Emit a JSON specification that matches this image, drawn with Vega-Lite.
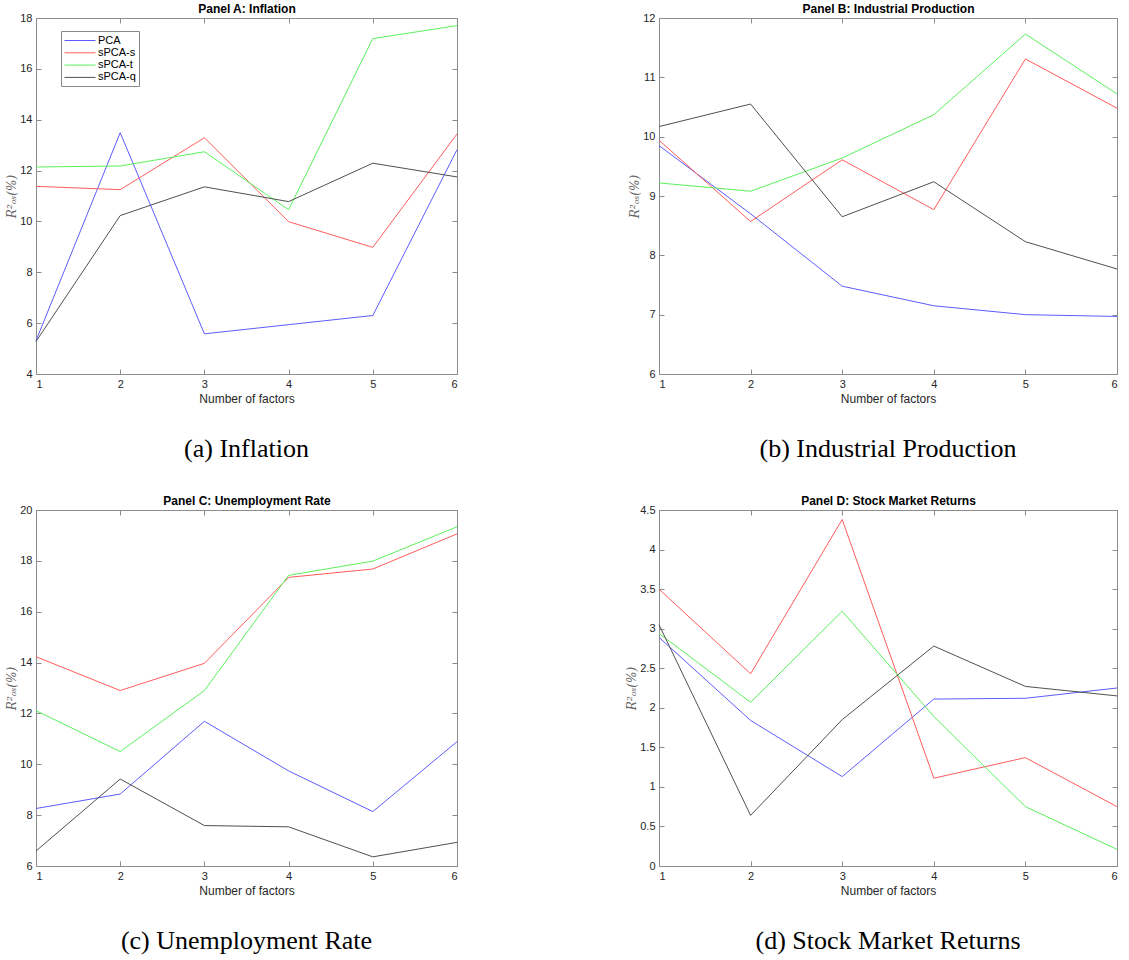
{
  "$schema": "https://vega.github.io/schema/vega-lite/v6.json",
  "background": "white",
  "padding": {"left": 5, "top": 2, "right": 5, "bottom": 5},
  "datasets": {
    "r2": [
      {"panel": "A", "model": "PCA", "k": 1, "r2": 5.31},
      {"panel": "A", "model": "PCA", "k": 2, "r2": 13.49},
      {"panel": "A", "model": "PCA", "k": 3, "r2": 5.58},
      {"panel": "A", "model": "PCA", "k": 4, "r2": 5.94},
      {"panel": "A", "model": "PCA", "k": 5, "r2": 6.30},
      {"panel": "A", "model": "PCA", "k": 6, "r2": 12.82},
      {"panel": "A", "model": "sPCA-s", "k": 1, "r2": 11.38},
      {"panel": "A", "model": "sPCA-s", "k": 2, "r2": 11.25},
      {"panel": "A", "model": "sPCA-s", "k": 3, "r2": 13.29},
      {"panel": "A", "model": "sPCA-s", "k": 4, "r2": 9.99},
      {"panel": "A", "model": "sPCA-s", "k": 5, "r2": 8.98},
      {"panel": "A", "model": "sPCA-s", "k": 6, "r2": 13.44},
      {"panel": "A", "model": "sPCA-t", "k": 1, "r2": 12.14},
      {"panel": "A", "model": "sPCA-t", "k": 2, "r2": 12.18},
      {"panel": "A", "model": "sPCA-t", "k": 3, "r2": 12.74},
      {"panel": "A", "model": "sPCA-t", "k": 4, "r2": 10.46},
      {"panel": "A", "model": "sPCA-t", "k": 5, "r2": 17.19},
      {"panel": "A", "model": "sPCA-t", "k": 6, "r2": 17.70},
      {"panel": "A", "model": "sPCA-q", "k": 1, "r2": 5.28},
      {"panel": "A", "model": "sPCA-q", "k": 2, "r2": 10.23},
      {"panel": "A", "model": "sPCA-q", "k": 3, "r2": 11.36},
      {"panel": "A", "model": "sPCA-q", "k": 4, "r2": 10.78},
      {"panel": "A", "model": "sPCA-q", "k": 5, "r2": 12.29},
      {"panel": "A", "model": "sPCA-q", "k": 6, "r2": 11.75},
      {"panel": "B", "model": "PCA", "k": 1, "r2": 9.85},
      {"panel": "B", "model": "PCA", "k": 2, "r2": 8.70},
      {"panel": "B", "model": "PCA", "k": 3, "r2": 7.48},
      {"panel": "B", "model": "PCA", "k": 4, "r2": 7.15},
      {"panel": "B", "model": "PCA", "k": 5, "r2": 7.00},
      {"panel": "B", "model": "PCA", "k": 6, "r2": 6.97},
      {"panel": "B", "model": "sPCA-s", "k": 1, "r2": 9.94},
      {"panel": "B", "model": "sPCA-s", "k": 2, "r2": 8.57},
      {"panel": "B", "model": "sPCA-s", "k": 3, "r2": 9.61},
      {"panel": "B", "model": "sPCA-s", "k": 4, "r2": 8.77},
      {"panel": "B", "model": "sPCA-s", "k": 5, "r2": 11.31},
      {"panel": "B", "model": "sPCA-s", "k": 6, "r2": 10.48},
      {"panel": "B", "model": "sPCA-t", "k": 1, "r2": 9.22},
      {"panel": "B", "model": "sPCA-t", "k": 2, "r2": 9.08},
      {"panel": "B", "model": "sPCA-t", "k": 3, "r2": 9.64},
      {"panel": "B", "model": "sPCA-t", "k": 4, "r2": 10.37},
      {"panel": "B", "model": "sPCA-t", "k": 5, "r2": 11.73},
      {"panel": "B", "model": "sPCA-t", "k": 6, "r2": 10.72},
      {"panel": "B", "model": "sPCA-q", "k": 1, "r2": 10.17},
      {"panel": "B", "model": "sPCA-q", "k": 2, "r2": 10.55},
      {"panel": "B", "model": "sPCA-q", "k": 3, "r2": 8.65},
      {"panel": "B", "model": "sPCA-q", "k": 4, "r2": 9.24},
      {"panel": "B", "model": "sPCA-q", "k": 5, "r2": 8.23},
      {"panel": "B", "model": "sPCA-q", "k": 6, "r2": 7.77},
      {"panel": "C", "model": "PCA", "k": 1, "r2": 8.26},
      {"panel": "C", "model": "PCA", "k": 2, "r2": 8.83},
      {"panel": "C", "model": "PCA", "k": 3, "r2": 11.69},
      {"panel": "C", "model": "PCA", "k": 4, "r2": 9.74},
      {"panel": "C", "model": "PCA", "k": 5, "r2": 8.14},
      {"panel": "C", "model": "PCA", "k": 6, "r2": 10.89},
      {"panel": "C", "model": "sPCA-s", "k": 1, "r2": 14.23},
      {"panel": "C", "model": "sPCA-s", "k": 2, "r2": 12.90},
      {"panel": "C", "model": "sPCA-s", "k": 3, "r2": 13.97},
      {"panel": "C", "model": "sPCA-s", "k": 4, "r2": 17.35},
      {"panel": "C", "model": "sPCA-s", "k": 5, "r2": 17.68},
      {"panel": "C", "model": "sPCA-s", "k": 6, "r2": 19.06},
      {"panel": "C", "model": "sPCA-t", "k": 1, "r2": 12.11},
      {"panel": "C", "model": "sPCA-t", "k": 2, "r2": 10.50},
      {"panel": "C", "model": "sPCA-t", "k": 3, "r2": 12.90},
      {"panel": "C", "model": "sPCA-t", "k": 4, "r2": 17.43},
      {"panel": "C", "model": "sPCA-t", "k": 5, "r2": 17.99},
      {"panel": "C", "model": "sPCA-t", "k": 6, "r2": 19.34},
      {"panel": "C", "model": "sPCA-q", "k": 1, "r2": 6.59},
      {"panel": "C", "model": "sPCA-q", "k": 2, "r2": 9.42},
      {"panel": "C", "model": "sPCA-q", "k": 3, "r2": 7.59},
      {"panel": "C", "model": "sPCA-q", "k": 4, "r2": 7.54},
      {"panel": "C", "model": "sPCA-q", "k": 5, "r2": 6.36},
      {"panel": "C", "model": "sPCA-q", "k": 6, "r2": 6.93},
      {"panel": "D", "model": "PCA", "k": 1, "r2": 2.89},
      {"panel": "D", "model": "PCA", "k": 2, "r2": 1.84},
      {"panel": "D", "model": "PCA", "k": 3, "r2": 1.13},
      {"panel": "D", "model": "PCA", "k": 4, "r2": 2.11},
      {"panel": "D", "model": "PCA", "k": 5, "r2": 2.12},
      {"panel": "D", "model": "PCA", "k": 6, "r2": 2.25},
      {"panel": "D", "model": "sPCA-s", "k": 1, "r2": 3.50},
      {"panel": "D", "model": "sPCA-s", "k": 2, "r2": 2.43},
      {"panel": "D", "model": "sPCA-s", "k": 3, "r2": 4.38},
      {"panel": "D", "model": "sPCA-s", "k": 4, "r2": 1.11},
      {"panel": "D", "model": "sPCA-s", "k": 5, "r2": 1.37},
      {"panel": "D", "model": "sPCA-s", "k": 6, "r2": 0.75},
      {"panel": "D", "model": "sPCA-t", "k": 1, "r2": 2.94},
      {"panel": "D", "model": "sPCA-t", "k": 2, "r2": 2.07},
      {"panel": "D", "model": "sPCA-t", "k": 3, "r2": 3.22},
      {"panel": "D", "model": "sPCA-t", "k": 4, "r2": 1.89},
      {"panel": "D", "model": "sPCA-t", "k": 5, "r2": 0.75},
      {"panel": "D", "model": "sPCA-t", "k": 6, "r2": 0.21},
      {"panel": "D", "model": "sPCA-q", "k": 1, "r2": 3.05},
      {"panel": "D", "model": "sPCA-q", "k": 2, "r2": 0.64},
      {"panel": "D", "model": "sPCA-q", "k": 3, "r2": 1.85},
      {"panel": "D", "model": "sPCA-q", "k": 4, "r2": 2.78},
      {"panel": "D", "model": "sPCA-q", "k": 5, "r2": 2.27},
      {"panel": "D", "model": "sPCA-q", "k": 6, "r2": 2.15}
    ]
  },
  "columns": 2,
  "spacing": {"column": 166, "row": 32},
  "resolve": {"scale": {"color": "independent", "x": "independent", "y": "independent"}},
  "concat": [
    {
      "width": 421, "height": 356,
      "title": {"text": "(a) Inflation", "orient": "bottom", "frame": "group"},
      "data": {"name": "r2"},
      "transform": [{"filter": "datum.panel === 'A'"}],
      "layer": [
        {
          "mark": {"type": "line", "strokeWidth": 1},
          "encoding": {
            "x": {"field": "k", "type": "quantitative", "scale": {"domain": [1, 6], "nice": false}, "axis": {"orient": "bottom", "values": [1, 2, 3, 4, 5, 6], "format": "d", "title": "Number of factors"}},
            "y": {"field": "r2", "type": "quantitative", "scale": {"domain": [4, 18], "nice": false, "zero": false}, "axis": {"orient": "left", "values": [4, 6, 8, 10, 12, 14, 16, 18], "format": "~g", "title": "R²ₒₛ(%)"}},
            "color": {"field": "model", "type": "nominal", "scale": {"domain": ["PCA", "sPCA-s", "sPCA-t", "sPCA-q"], "range": ["#5c5cff", "#ff5c5c", "#5cf05c", "#505050"]},
              "legend": {"orient": "none", "legendX": 25, "legendY": 13, "title": null, "strokeColor": "#888", "fillColor": "white", "padding": 3, "symbolType": "M-1,0H4.17", "symbolSize": 144, "symbolStrokeWidth": 1, "labelFontSize": 11, "labelColor": "#000", "rowPadding": 0.3, "labelOffset": 21}}
          }
        },
        {
          "mark": {"type": "line", "opacity": 0},
          "encoding": {
            "x": {"field": "k", "type": "quantitative", "axis": {"orient": "top", "values": [1, 2, 3, 4, 5, 6], "labels": false, "title": "Panel A: Inflation", "titleFontWeight": "bold", "titleColor": "#000", "titlePadding": 2}},
            "y": {"field": "r2", "type": "quantitative", "axis": {"orient": "right", "values": [4, 6, 8, 10, 12, 14, 16, 18], "labels": false, "title": null}},
            "detail": {"field": "model"}
          }
        }
      ],
      "resolve": {"axis": {"x": "independent", "y": "independent"}}
    },
    {
      "width": 458, "height": 356,
      "title": {"text": "(b) Industrial Production", "orient": "bottom", "frame": "group"},
      "data": {"name": "r2"},
      "transform": [{"filter": "datum.panel === 'B'"}],
      "layer": [
        {
          "mark": {"type": "line", "strokeWidth": 1},
          "encoding": {
            "x": {"field": "k", "type": "quantitative", "scale": {"domain": [1, 6], "nice": false}, "axis": {"orient": "bottom", "values": [1, 2, 3, 4, 5, 6], "format": "d", "title": "Number of factors"}},
            "y": {"field": "r2", "type": "quantitative", "scale": {"domain": [6, 12], "nice": false, "zero": false}, "axis": {"orient": "left", "values": [6, 7, 8, 9, 10, 11, 12], "format": "~g", "title": "R²ₒₛ(%)"}},
            "color": {"field": "model", "type": "nominal", "scale": {"domain": ["PCA", "sPCA-s", "sPCA-t", "sPCA-q"], "range": ["#5c5cff", "#ff5c5c", "#5cf05c", "#505050"]}, "legend": null}
          }
        },
        {
          "mark": {"type": "line", "opacity": 0},
          "encoding": {
            "x": {"field": "k", "type": "quantitative", "axis": {"orient": "top", "values": [1, 2, 3, 4, 5, 6], "labels": false, "title": "Panel B: Industrial Production", "titleFontWeight": "bold", "titleColor": "#000", "titlePadding": 2}},
            "y": {"field": "r2", "type": "quantitative", "axis": {"orient": "right", "values": [6, 7, 8, 9, 10, 11, 12], "labels": false, "title": null}},
            "detail": {"field": "model"}
          }
        }
      ],
      "resolve": {"axis": {"x": "independent", "y": "independent"}}
    },
    {
      "width": 421, "height": 356,
      "title": {"text": "(c) Unemployment Rate", "orient": "bottom", "frame": "group"},
      "data": {"name": "r2"},
      "transform": [{"filter": "datum.panel === 'C'"}],
      "layer": [
        {
          "mark": {"type": "line", "strokeWidth": 1},
          "encoding": {
            "x": {"field": "k", "type": "quantitative", "scale": {"domain": [1, 6], "nice": false}, "axis": {"orient": "bottom", "values": [1, 2, 3, 4, 5, 6], "format": "d", "title": "Number of factors"}},
            "y": {"field": "r2", "type": "quantitative", "scale": {"domain": [6, 20], "nice": false, "zero": false}, "axis": {"orient": "left", "values": [6, 8, 10, 12, 14, 16, 18, 20], "format": "~g", "title": "R²ₒₛ(%)"}},
            "color": {"field": "model", "type": "nominal", "scale": {"domain": ["PCA", "sPCA-s", "sPCA-t", "sPCA-q"], "range": ["#5c5cff", "#ff5c5c", "#5cf05c", "#505050"]}, "legend": null}
          }
        },
        {
          "mark": {"type": "line", "opacity": 0},
          "encoding": {
            "x": {"field": "k", "type": "quantitative", "axis": {"orient": "top", "values": [1, 2, 3, 4, 5, 6], "labels": false, "title": "Panel C: Unemployment Rate", "titleFontWeight": "bold", "titleColor": "#000", "titlePadding": 2}},
            "y": {"field": "r2", "type": "quantitative", "axis": {"orient": "right", "values": [6, 8, 10, 12, 14, 16, 18, 20], "labels": false, "title": null}},
            "detail": {"field": "model"}
          }
        }
      ],
      "resolve": {"axis": {"x": "independent", "y": "independent"}}
    },
    {
      "width": 458, "height": 356,
      "title": {"text": "(d) Stock Market Returns", "orient": "bottom", "frame": "group"},
      "data": {"name": "r2"},
      "transform": [{"filter": "datum.panel === 'D'"}],
      "layer": [
        {
          "mark": {"type": "line", "strokeWidth": 1},
          "encoding": {
            "x": {"field": "k", "type": "quantitative", "scale": {"domain": [1, 6], "nice": false}, "axis": {"orient": "bottom", "values": [1, 2, 3, 4, 5, 6], "format": "d", "title": "Number of factors"}},
            "y": {"field": "r2", "type": "quantitative", "scale": {"domain": [0, 4.5], "nice": false, "zero": false}, "axis": {"orient": "left", "values": [0, 0.5, 1, 1.5, 2, 2.5, 3, 3.5, 4, 4.5], "format": "~g", "title": "R²ₒₛ(%)"}},
            "color": {"field": "model", "type": "nominal", "scale": {"domain": ["PCA", "sPCA-s", "sPCA-t", "sPCA-q"], "range": ["#5c5cff", "#ff5c5c", "#5cf05c", "#505050"]}, "legend": null}
          }
        },
        {
          "mark": {"type": "line", "opacity": 0},
          "encoding": {
            "x": {"field": "k", "type": "quantitative", "axis": {"orient": "top", "values": [1, 2, 3, 4, 5, 6], "labels": false, "title": "Panel D: Stock Market Returns", "titleFontWeight": "bold", "titleColor": "#000", "titlePadding": 2}},
            "y": {"field": "r2", "type": "quantitative", "axis": {"orient": "right", "values": [0, 0.5, 1, 1.5, 2, 2.5, 3, 3.5, 4, 4.5], "labels": false, "title": null}},
            "detail": {"field": "model"}
          }
        }
      ],
      "resolve": {"axis": {"x": "independent", "y": "independent"}}
    }
  ],
  "config": {
    "font": "Liberation Sans",
    "view": {"stroke": null},
    "axis": {
      "grid": false,
      "domainColor": "#8c8c8c",
      "tickColor": "#8c8c8c",
      "tickSize": -5,
      "labelPadding": 9,
      "labelColor": "#262626",
      "labelFontSize": 11,
      "labelFont": "Liberation Sans",
      "titleFont": "Liberation Sans",
      "titleFontSize": 12,
      "titleFontWeight": "normal",
      "titleColor": "#262626"
    },
    "axisLeft": {"titleFont": "DejaVu Serif", "titleFontStyle": "italic", "titleColor": "#666", "titleFontSize": 12, "titlePadding": 1},
    "title": {"font": "Liberation Serif", "fontSize": 26, "fontWeight": "normal", "color": "#000", "offset": 32}
  }
}
